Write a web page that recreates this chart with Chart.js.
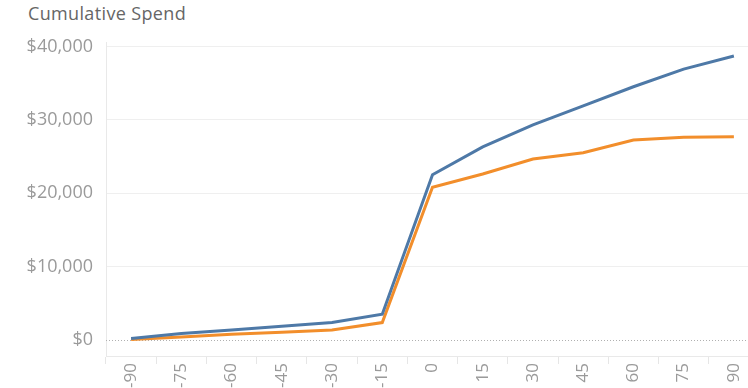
<!DOCTYPE html>
<html>
<head>
<meta charset="utf-8">
<script src="https://cdn.jsdelivr.net/npm/chart.js@4/dist/chart.umd.min.js"></script>
<style>
  html, body { margin: 0; padding: 0; background: #fff; overflow: hidden; width: 748px; height: 388px; }
  #title { position: absolute; left: 28px; top: 1px; font: 18px "Open Sans", sans-serif; letter-spacing: 0.35px; color: #666; white-space: nowrap; }
  #wrap { position: absolute; left: 0; top: 0; width: 759px; height: 388px; }
</style>
</head>
<body>
<div id="title">Cumulative Spend</div>
<div id="wrap"><canvas id="c" width="759" height="388"></canvas></div>
<script>
// Days relative to the event
const days = ['-90', '-75', '-60', '-45', '-30', '-15', '0', '15', '30', '45', '60', '75', '90'];
// Cumulative spend per series
const spendA = [200, 860, 1360, 1870, 2360, 3500, 22500, 26300, 29300, 31900, 34500, 36900, 38700];
const spendB = [60, 400, 780, 1050, 1360, 2360, 20800, 22600, 24650, 25500, 27250, 27600, 27700];
// Value axis ticks
const yTicks = [0, 10000, 20000, 30000, 40000];

const labelColor = '#9a9a9a';
const gridColor = '#efefef';

// Dotted baseline at zero, drawn beneath the lines
const zeroLine = {
  id: 'zeroLine',
  beforeDatasetsDraw(chart) {
    const { ctx, chartArea, scales } = chart;
    const y = Math.round(scales.y.getPixelForValue(0)) + 0.5;
    ctx.save();
    ctx.strokeStyle = '#b0b0b0';
    ctx.lineWidth = 1;
    ctx.setLineDash([1, 2]);
    ctx.beginPath();
    ctx.moveTo(chartArea.left, y);
    ctx.lineTo(chartArea.right, y);
    ctx.stroke();
    ctx.restore();
  }
};

new Chart(document.getElementById('c'), {
  type: 'line',
  data: {
    labels: days,
    datasets: [
      { label: 'Series A', data: spendA, borderColor: '#4e79a7', backgroundColor: '#4e79a7', borderWidth: 3, pointRadius: 0, tension: 0 },
      { label: 'Series B', data: spendB, borderColor: '#f28e2b', backgroundColor: '#f28e2b', borderWidth: 3, pointRadius: 0, tension: 0 }
    ]
  },
  options: {
    responsive: false,
    animation: false,
    layout: { padding: { top: 42, right: 0, bottom: 0, left: 0 } },
    plugins: { legend: { display: false }, tooltip: { enabled: false } },
    scales: {
      x: {
        offset: true,
        afterFit(scale) { scale.height = 32; },
        grid: { offset: true, drawOnChartArea: false, tickLength: 8, color: '#e6e6e6' },
        border: { color: '#e9e9e9' },
        ticks: {
          minRotation: 90, maxRotation: 90, padding: -1,
          color: labelColor, font: { family: 'Open Sans', size: 17 }
        }
      },
      y: {
        min: -2200,
        max: 40600,
        afterBuildTicks(scale) { scale.ticks = yTicks.map(v => ({ value: v })); },
        afterFit(scale) { scale.width = 106; },
        grid: { drawTicks: false, color: ctx => (ctx.tick && ctx.tick.value === 0) ? 'rgba(0,0,0,0)' : gridColor },
        border: { color: '#e9e9e9' },
        ticks: {
          padding: 13,
          color: labelColor,
          font: { family: 'Open Sans', size: 18 },
          callback: v => '$' + Number(v).toLocaleString('en-US')
        }
      }
    }
  },
  plugins: [zeroLine]
});
</script>
</body>
</html>
